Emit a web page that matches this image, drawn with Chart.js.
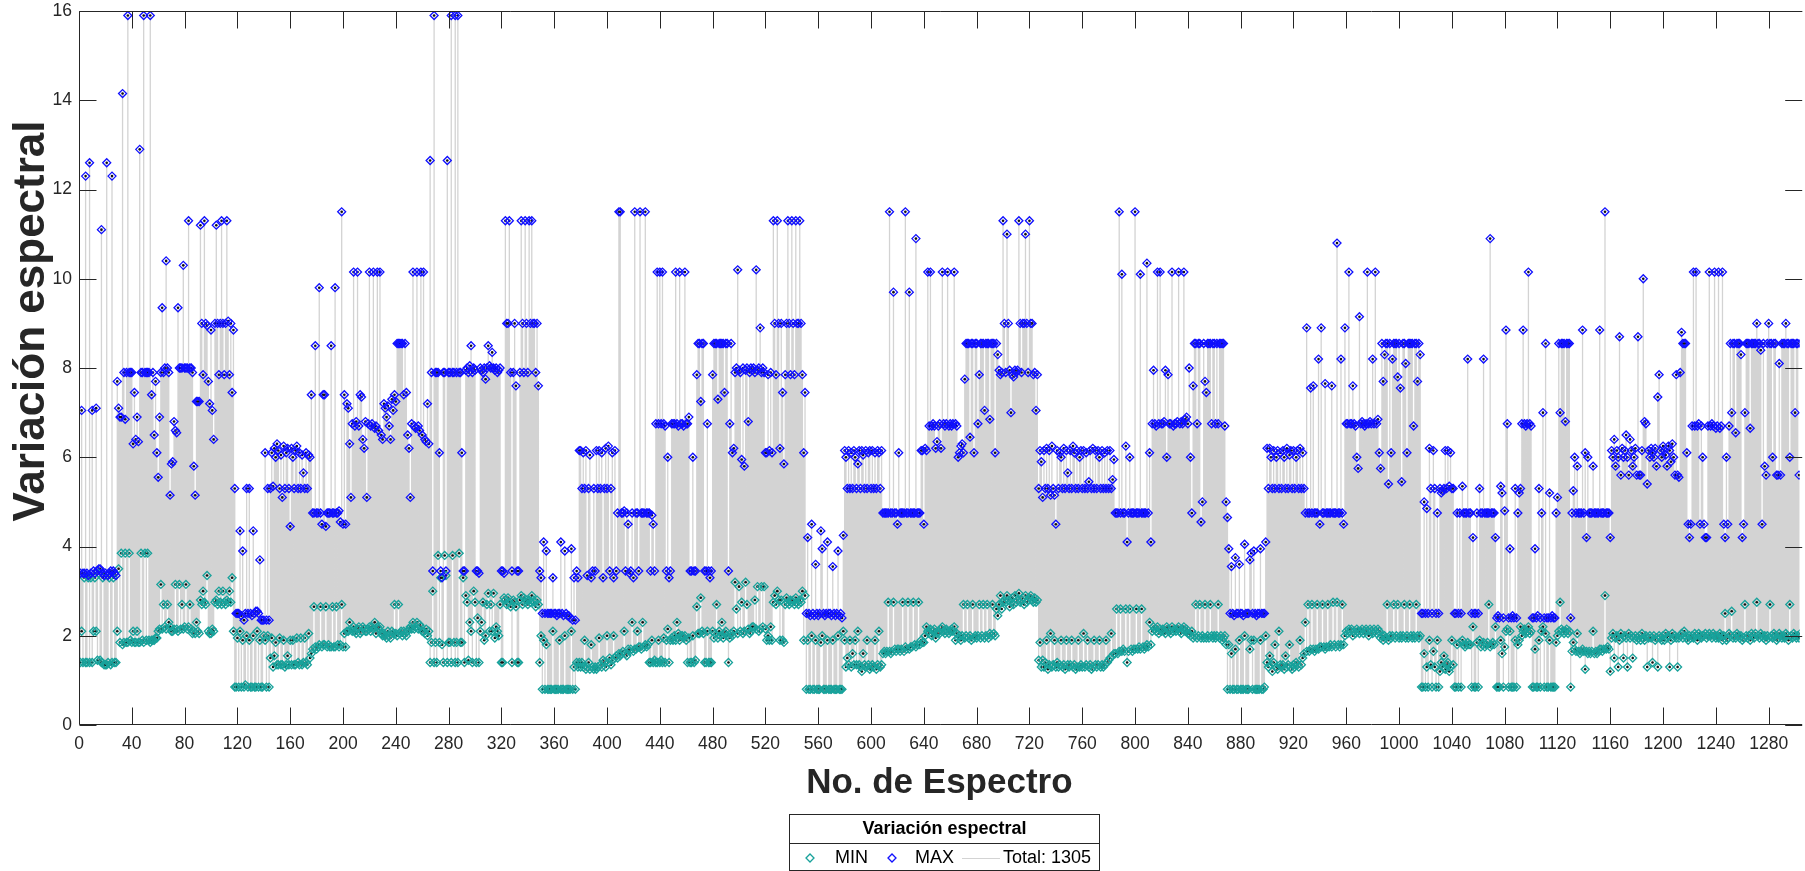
<!DOCTYPE html>
<html>
<head>
<meta charset="utf-8">
<title>Variación espectral</title>
<script src="https://cdn.jsdelivr.net/npm/chart.js@4.4.1/dist/chart.umd.min.js"></script>
<style>
  html, body { margin: 0; padding: 0; background: #ffffff; }
  canvas { display: block; }
</style>
</head>
<body>
<canvas id="chart" width="1805" height="871"></canvas>
<script>
// Tick positions of both axes
const xTicks = [0,40,80,120,160,200,240,280,320,360,400,440,480,520,560,600,640,680,720,760,800,840,880,920,960,1000,1040,1080,1120,1160,1200,1240,1280];
const yTicks = [0,2,4,6,8,10,12,14,16];

// Largest spectral variation of each spectrum
const maxVals = [
3.4,7.05,3.4,3.4,12.3,3.4,3.35,12.6,3.4,7.05,
3.45,3.4,7.1,3.45,3.5,3.5,11.1,3.4,3.35,3.4,
12.6,3.35,3.4,3.45,12.3,3.45,3.4,3.35,7.7,7.1,
6.9,6.9,14.15,7.9,6.85,7.9,15.9,7.9,7.9,7.9,
6.3,7.45,6.4,6.9,6.35,12.9,7.9,7.9,15.9,7.9,
7.9,7.9,7.9,15.9,7.4,7.9,6.5,7.7,6.1,5.55,
6.9,7.9,9.35,7.9,8.0,10.4,8.0,7.9,5.15,5.85,
5.9,6.8,6.6,6.55,9.35,8.0,8.0,8.0,10.3,8.0,
8.0,8.0,11.3,8.0,8.0,7.9,5.8,5.15,7.25,7.25,
7.25,11.2,9.0,7.85,11.3,9.0,8.95,7.7,7.2,8.85,
7.05,6.4,9.0,11.2,9.0,7.85,9.0,11.3,9.0,7.85,
9.0,11.3,9.05,7.85,9.0,7.45,8.85,5.3,2.5,2.5,
2.5,4.35,2.45,3.9,2.35,2.5,5.3,2.5,5.3,2.5,
2.45,4.35,2.5,2.55,2.55,2.5,3.7,2.35,2.35,2.35,
6.1,2.35,5.3,2.35,5.3,6.1,5.35,6.2,6.0,6.3,
6.15,5.3,6.05,5.1,6.25,5.3,6.1,6.2,5.3,4.45,
6.2,6.0,5.3,6.15,6.25,5.3,6.1,5.3,6.05,5.65,
5.3,6.1,5.3,6.05,6.0,7.4,4.75,4.75,8.5,4.75,
4.75,9.8,4.75,4.5,7.4,7.4,4.45,4.75,4.75,4.75,
8.5,4.75,4.75,9.8,4.75,4.75,4.8,4.55,11.5,4.5,
7.4,4.5,7.2,7.1,6.3,5.1,6.75,10.15,6.7,6.8,
10.15,6.7,7.4,7.35,6.4,6.2,6.8,5.1,6.75,10.15,
6.7,6.75,10.15,6.65,6.7,10.15,6.6,10.15,6.5,6.4,
7.2,7.1,6.9,7.15,6.7,6.4,7.3,7.05,7.4,7.25,
8.55,8.55,8.55,8.55,8.55,7.4,8.55,7.45,6.5,6.2,
5.1,6.75,10.15,6.7,6.65,10.15,6.7,6.6,10.15,6.5,
10.15,6.4,6.35,7.2,6.3,12.65,7.9,3.45,15.9,7.9,
7.9,7.9,6.1,3.45,3.3,7.9,7.9,3.45,12.65,7.9,
7.9,15.9,7.9,7.9,15.9,7.9,15.9,7.9,7.9,6.1,
3.45,3.45,7.95,8.0,7.9,8.05,8.5,7.9,8.0,7.95,
3.45,3.45,3.4,8.0,7.95,7.9,8.0,7.75,8.0,8.5,
8.05,8.0,8.35,8.0,7.95,8.0,7.9,7.95,8.0,3.45,
3.45,3.4,11.3,9.0,9.0,11.3,7.9,3.45,7.9,9.0,
7.6,3.45,3.45,7.9,11.3,9.0,7.9,11.3,9.0,7.9,
11.3,9.0,11.3,9.0,9.0,7.9,9.0,7.6,3.45,3.3,
2.5,4.1,2.5,3.9,2.5,2.5,2.5,2.5,3.3,2.5,
2.5,2.45,2.5,2.5,4.1,2.5,2.45,3.9,2.5,2.45,
2.45,2.4,3.95,2.35,3.3,2.35,3.45,3.3,6.15,6.15,
5.3,6.1,5.3,6.15,3.35,5.3,6.05,3.3,3.45,5.3,
3.45,6.15,5.3,6.15,5.3,6.1,3.3,5.3,6.2,5.3,
6.25,3.45,5.3,6.1,3.3,6.15,3.45,4.75,11.5,11.5,
4.75,4.75,4.8,3.45,4.75,4.5,3.4,3.45,4.75,3.3,
11.5,4.75,4.75,3.45,11.5,4.75,4.75,4.75,11.5,4.75,
4.75,4.75,3.45,4.7,4.5,3.45,6.75,10.15,6.75,10.15,
6.75,10.15,6.75,6.7,3.45,6.0,3.3,3.45,6.75,6.75,
6.75,10.15,6.75,6.7,10.15,6.75,6.75,6.7,10.15,6.75,
6.75,6.9,3.45,3.45,6.0,3.45,3.45,7.85,8.55,8.55,
7.25,8.55,8.55,3.45,3.45,6.75,3.45,3.3,3.45,7.85,
8.55,8.55,8.55,7.3,8.55,8.55,8.55,8.55,7.45,8.55,
8.55,3.45,6.75,8.55,6.1,6.2,7.9,8.0,10.2,7.95,
7.9,5.95,8.0,5.8,7.95,8.0,6.8,7.9,8.0,7.95,
8.0,7.9,10.2,7.95,8.0,8.9,7.9,8.0,7.9,6.1,
6.1,7.85,6.15,7.9,6.1,11.3,9.0,7.85,11.3,9.0,
6.2,9.0,7.45,5.85,7.85,9.0,11.3,9.0,7.85,11.3,
9.0,7.85,11.3,9.0,9.0,11.3,9.0,7.85,6.1,7.45,
2.5,4.2,2.5,2.45,4.5,2.5,2.45,3.6,2.5,2.45,
2.5,4.35,3.95,2.5,2.45,2.5,4.1,2.5,2.5,2.45,
3.55,2.5,2.45,2.5,3.9,2.45,2.5,2.4,4.25,6.15,
6.0,5.3,6.15,5.3,6.1,5.3,6.15,6.0,5.3,5.85,
6.15,5.3,6.15,6.05,5.3,6.15,5.3,6.1,6.15,5.3,
6.15,5.3,6.1,5.3,6.15,6.1,5.3,6.15,4.75,4.75,
4.75,4.75,4.75,11.5,4.75,4.75,9.7,4.75,4.75,4.5,
6.1,4.75,4.75,4.75,4.75,11.5,4.75,4.75,9.7,4.75,
4.75,4.75,4.75,10.9,4.75,4.75,4.75,6.15,6.15,4.5,
6.2,6.15,10.15,6.7,10.15,6.7,6.75,6.7,6.2,6.35,
6.7,6.75,6.2,10.15,6.75,6.7,6.75,10.15,6.7,6.75,
6.7,6.75,10.15,6.75,6.7,6.0,6.1,6.25,6.3,6.1,
7.75,8.55,8.55,8.55,6.45,8.55,8.55,6.1,8.55,8.55,
6.75,7.85,8.55,8.55,8.55,7.05,8.55,8.55,8.55,6.85,
8.55,8.55,8.55,6.1,8.55,8.3,7.95,7.85,7.9,11.3,
9.0,7.9,11.0,9.0,7.95,7.0,7.85,7.8,7.95,7.9,
7.95,11.3,9.0,7.9,9.0,9.0,11.0,9.0,7.9,11.3,
9.0,9.0,7.85,7.9,7.05,7.85,5.3,6.15,5.9,5.1,
6.15,5.3,6.2,5.3,6.15,5.15,6.25,5.3,5.15,4.5,
6.15,5.3,6.1,6.0,5.3,6.2,5.3,6.15,5.65,5.3,
6.15,5.3,6.25,6.1,5.3,6.15,5.3,6.0,6.15,5.3,
6.15,5.3,6.1,5.3,5.45,6.15,5.3,6.2,5.3,6.15,
5.3,6.15,6.0,5.3,6.15,5.3,6.1,5.3,6.15,5.3,
6.15,5.3,5.5,5.95,4.75,4.75,4.75,11.5,4.75,10.1,
4.75,4.75,6.25,4.1,4.75,6.0,4.75,4.75,4.75,11.5,
4.75,4.75,4.75,10.1,4.75,4.75,4.75,4.75,10.35,4.75,
6.1,4.1,6.75,7.95,6.75,6.7,10.15,6.75,10.15,6.75,
6.75,6.8,7.95,6.0,7.85,6.75,6.75,10.15,6.7,6.75,
6.75,6.8,10.15,6.75,6.8,6.75,10.15,6.85,6.9,6.75,
8.0,6.0,4.75,7.6,8.55,8.55,6.75,8.55,8.55,4.55,
5.0,8.55,7.7,7.45,8.55,8.55,8.55,6.75,8.55,8.55,
6.75,8.55,6.75,8.55,8.55,8.55,8.55,6.7,5.0,4.65,
3.95,2.5,3.55,2.5,2.45,3.75,2.5,2.5,3.6,2.5,
2.5,2.45,4.05,2.5,2.5,2.5,3.7,3.85,2.5,3.9,
2.5,2.45,2.5,2.5,3.95,2.5,2.5,2.5,4.1,6.2,
5.3,6.2,6.0,5.3,6.15,5.3,6.0,6.15,5.3,6.1,
5.3,6.15,6.0,5.3,6.2,5.3,6.05,6.15,5.3,6.15,
5.3,6.0,6.15,5.3,6.2,5.3,6.1,5.3,4.75,8.9,
4.75,4.75,7.55,4.75,7.6,4.75,4.75,4.75,8.2,4.5,
8.9,4.75,4.75,7.65,4.75,4.75,4.75,4.75,7.6,4.75,
4.75,4.75,10.8,4.75,4.75,8.2,4.75,4.5,8.9,6.75,
6.75,10.15,6.75,6.75,7.6,6.75,6.7,6.0,5.75,9.15,
6.75,6.8,6.75,6.7,6.75,10.15,6.75,6.8,6.75,8.2,
6.75,10.15,6.75,6.85,6.1,5.75,8.55,7.7,8.3,8.55,
8.55,5.4,8.55,6.1,8.2,8.55,8.55,8.55,7.8,8.55,
7.55,5.45,8.55,8.55,8.1,6.1,8.55,8.55,8.55,8.55,
6.7,8.55,8.55,7.7,8.55,8.3,2.5,2.5,5.0,2.5,
4.85,2.5,6.2,5.3,2.5,6.15,5.3,2.5,4.75,2.5,
5.3,5.2,5.25,5.3,6.15,5.3,6.15,5.35,6.1,5.3,
5.3,2.5,2.5,4.75,2.5,4.75,2.5,5.35,4.75,4.75,
4.75,8.2,4.75,4.75,2.5,4.2,2.5,2.5,4.75,2.5,
5.3,4.75,4.75,8.2,4.75,4.75,4.75,4.75,10.9,4.75,
4.75,4.75,4.2,2.4,2.45,2.4,5.35,5.2,2.4,4.8,
8.85,6.75,2.4,3.95,2.4,2.45,2.4,5.3,2.4,4.75,
5.2,5.3,6.75,8.85,6.75,6.7,6.75,10.15,6.75,6.7,
2.4,2.4,3.95,2.4,2.45,5.3,2.4,4.75,7.0,2.4,
8.55,2.4,2.4,5.2,2.4,2.45,2.4,2.4,4.75,5.1,
8.55,7.0,8.55,8.55,8.55,6.8,8.55,8.55,8.55,2.4,
4.75,5.25,6.0,4.75,5.8,4.75,4.75,4.75,8.85,4.75,
6.1,4.2,6.0,4.75,4.75,4.75,5.8,4.75,4.75,4.75,
4.75,8.85,4.75,4.75,4.75,11.5,4.75,4.75,4.75,4.2,
6.15,6.0,6.4,5.8,6.15,6.0,8.7,5.6,6.2,6.0,
6.15,6.5,6.0,5.6,6.4,6.15,5.8,6.0,6.2,5.6,
8.7,5.6,5.6,6.15,10.0,6.8,6.75,5.4,6.15,6.0,
6.2,6.1,6.0,6.2,5.8,7.35,7.85,6.15,6.0,6.25,
6.15,6.05,5.8,6.25,6.15,5.9,6.3,6.0,5.6,7.85,
5.6,5.55,7.9,8.8,8.55,8.55,8.55,6.1,4.5,4.2,
4.5,6.7,10.15,6.7,10.15,6.7,6.75,4.5,6.7,6.0,
4.5,4.2,4.2,6.7,10.15,6.7,6.75,6.7,10.15,6.65,
6.7,10.15,6.65,6.7,10.15,4.5,4.2,6.0,4.5,6.7,
8.55,7.0,8.55,8.55,6.55,8.55,8.55,8.55,8.3,4.2,
4.5,7.0,8.55,8.55,8.55,6.65,8.55,8.55,8.55,8.55,
9.0,8.55,8.55,8.4,4.5,8.55,5.8,5.6,8.55,9.0,
8.55,8.55,6.0,8.55,8.55,5.6,5.6,8.1,5.6,8.55,
8.55,8.55,9.0,8.55,8.55,6.0,8.55,8.55,8.55,7.0,
8.55,8.55,5.6,8.55,8.55
];

// Smallest spectral variation of each spectrum
const minVals = [
1.4,2.1,1.4,3.3,1.4,1.4,3.3,1.4,3.3,1.4,
2.1,3.3,2.1,1.45,3.4,1.45,1.4,3.3,1.35,1.35,
1.35,1.4,3.3,1.35,1.4,3.3,1.4,1.4,2.1,3.5,
1.85,3.85,1.8,1.85,3.85,1.85,1.85,3.85,1.9,1.85,
2.1,1.85,1.85,2.1,1.85,1.85,3.85,1.9,1.85,3.85,
1.9,3.85,1.9,1.85,1.9,1.9,1.9,1.95,1.95,2.1,
2.15,3.15,2.15,2.7,2.2,2.15,2.7,2.3,2.2,2.1,
2.1,2.15,3.15,2.15,2.1,3.15,2.15,2.7,2.15,2.2,
3.15,2.15,2.2,2.7,2.15,2.05,2.1,2.05,2.3,2.1,
2.05,2.8,2.7,3.0,2.75,2.7,3.35,2.1,2.05,2.05,
2.15,2.1,2.75,2.8,2.7,3.0,2.75,2.7,3.0,2.75,
2.7,2.8,2.75,3.0,2.75,3.3,2.1,0.85,0.85,1.95,
0.85,2.1,0.85,1.9,0.85,0.9,2.0,0.85,1.9,0.85,
0.85,2.0,0.85,0.85,2.1,0.85,1.9,0.85,0.85,2.0,
1.9,0.85,2.0,0.85,1.5,1.95,1.3,1.55,1.85,1.35,
1.35,1.95,1.35,1.35,1.9,1.3,1.35,1.55,1.35,1.9,
1.35,1.9,1.35,1.35,1.95,1.4,1.35,1.95,1.35,1.4,
1.95,1.4,1.35,2.05,1.5,1.6,1.7,2.65,1.75,1.7,
1.75,1.8,2.65,1.75,1.8,1.8,2.65,1.75,1.8,1.75,
1.75,2.65,1.75,1.75,2.65,1.8,1.75,1.8,2.7,1.75,
2.05,1.75,2.1,2.1,2.3,2.15,2.1,2.2,2.1,2.05,
2.15,2.2,2.05,2.1,2.2,2.15,2.1,2.1,2.15,2.2,
2.1,2.2,2.15,2.3,2.05,2.2,2.15,2.2,2.05,2.0,
2.05,2.0,1.95,2.1,2.0,1.95,2.1,2.05,2.7,2.05,
2.0,2.7,2.05,2.1,2.0,2.1,2.05,2.0,2.1,2.15,
2.2,2.15,2.3,2.15,2.2,2.3,2.15,2.25,2.2,2.1,
2.1,2.05,2.15,2.0,2.1,1.4,1.85,3.0,1.4,1.85,
1.4,3.8,1.85,3.3,1.8,1.4,3.8,3.35,1.4,1.85,
1.85,1.4,3.8,1.85,1.4,1.85,1.4,3.85,1.85,1.85,
3.3,1.4,2.9,2.75,1.45,2.3,2.1,1.4,3.0,2.75,
1.4,2.4,1.4,2.1,2.3,2.75,1.9,2.0,2.7,2.95,
2.1,2.7,2.1,2.95,1.95,2.2,2.1,2.0,2.7,1.4,
1.4,2.85,2.8,2.7,2.85,2.75,2.65,1.4,2.8,2.75,
2.65,1.4,1.4,2.8,2.9,2.7,2.85,2.75,2.8,2.7,
2.8,2.75,2.9,2.8,2.75,2.65,2.8,2.7,1.4,2.0,
0.8,1.9,0.8,1.8,0.8,0.8,0.8,0.8,2.1,0.8,
0.8,0.8,0.8,1.9,0.8,0.8,0.8,2.0,0.8,0.8,
0.8,0.8,2.1,0.8,1.3,0.8,1.4,1.3,1.4,1.3,
1.4,1.3,1.9,1.25,1.3,1.4,1.25,1.8,1.3,1.25,
1.3,1.25,1.3,1.95,1.35,1.3,1.45,1.4,1.3,2.0,
1.4,1.5,1.35,1.45,2.0,1.5,1.55,1.5,1.6,1.55,
1.6,1.65,2.1,1.6,1.55,1.7,1.65,1.7,2.3,1.65,
1.7,1.7,2.1,1.75,1.75,1.7,2.3,1.75,1.8,1.75,
1.8,1.4,1.4,1.9,1.4,1.45,1.4,1.4,1.9,1.4,
1.45,1.4,1.95,1.4,1.9,2.15,1.4,1.9,1.95,1.9,
2.0,1.9,2.3,2.05,1.9,2.0,2.0,1.95,2.0,1.9,
1.4,1.95,1.4,1.4,2.0,1.4,1.45,2.65,2.05,2.05,
2.85,2.1,2.05,1.4,1.4,2.1,1.4,1.4,1.4,2.1,
1.95,2.05,2.7,1.95,2.1,2.0,2.3,1.95,2.05,2.1,
2.0,1.4,1.95,2.05,2.0,2.1,3.2,2.6,2.05,3.1,
2.1,2.75,2.05,2.1,3.2,2.7,2.15,2.05,2.1,2.2,
2.2,2.8,2.15,3.1,2.1,2.15,3.1,2.2,3.1,2.15,
1.9,2.0,1.9,2.2,1.9,2.75,2.9,2.7,3.0,2.8,
1.9,2.8,1.9,1.85,2.7,2.85,2.75,2.7,2.8,2.75,
2.8,2.7,2.85,2.75,2.7,2.8,2.75,3.0,1.9,2.9,
0.8,1.9,0.8,0.8,2.0,0.8,0.8,1.9,0.8,0.8,
0.8,1.85,2.0,0.8,0.8,0.8,1.9,0.8,0.8,0.8,
1.9,0.8,0.8,0.8,2.0,0.8,0.8,0.8,2.1,1.9,
1.3,1.5,1.35,1.9,1.3,1.6,1.35,1.9,1.35,2.1,
1.35,1.3,1.2,1.6,1.35,1.3,1.9,1.35,1.25,1.3,
1.35,1.3,1.9,1.25,1.35,2.1,1.3,1.35,1.6,1.65,
1.6,1.65,2.75,1.65,1.6,1.65,2.75,1.7,1.65,1.7,
1.7,1.65,1.7,2.75,1.65,1.75,1.7,2.75,1.7,1.75,
1.75,2.75,1.8,1.75,1.8,2.75,1.8,1.9,1.85,1.85,
2.0,2.2,2.1,2.05,2.15,2.0,2.1,2.15,1.95,2.05,
2.1,2.05,2.15,2.2,2.1,2.05,2.15,2.1,2.05,2.1,
2.15,2.1,2.2,1.9,2.05,1.95,2.0,1.9,2.0,2.7,
1.95,2.0,2.7,1.95,2.0,1.9,2.7,1.95,2.0,1.95,
2.0,2.7,1.95,2.0,2.7,1.95,2.0,2.7,1.95,2.05,
2.0,2.7,2.05,2.0,2.6,2.45,2.7,2.9,2.6,2.75,
2.8,2.75,2.9,2.8,2.65,2.75,2.85,2.7,2.9,2.75,
2.8,2.95,2.75,2.8,2.85,2.7,2.9,2.75,2.8,2.85,
2.9,2.8,2.75,2.85,2.75,2.8,1.45,1.85,1.3,1.45,
1.3,1.4,1.9,1.25,1.35,2.05,1.3,1.35,1.9,1.3,
1.4,1.3,1.35,1.9,1.3,1.35,1.25,1.9,1.35,1.3,
1.35,1.9,1.3,1.35,1.25,1.3,1.9,1.3,1.35,1.3,
2.05,1.3,1.35,1.9,1.3,1.35,1.25,1.3,1.9,1.35,
1.3,1.35,1.9,1.3,1.35,1.3,1.35,1.9,1.4,1.45,
1.5,2.05,1.55,1.6,1.6,2.6,1.6,1.65,2.6,1.65,
1.7,1.65,2.6,1.4,1.65,2.6,1.7,1.65,1.7,1.7,
2.6,1.7,1.75,1.7,2.6,1.75,1.7,1.75,1.8,1.75,
2.3,1.8,2.1,2.2,2.15,2.1,2.2,2.05,2.15,2.1,
2.15,2.1,2.05,2.2,2.15,2.1,2.05,2.2,2.1,2.15,
2.1,2.15,2.2,2.1,2.05,2.15,2.2,2.1,2.15,2.05,
2.05,2.0,2.1,1.95,2.0,2.7,1.95,2.0,2.7,1.95,
2.0,1.95,2.7,1.95,2.0,1.95,2.7,2.0,1.95,2.0,
1.95,2.0,2.7,1.95,2.0,1.9,1.95,2.0,1.8,0.8,
1.8,0.8,1.6,0.8,0.8,1.7,0.8,0.8,1.9,0.8,
0.8,0.8,2.0,0.8,0.8,0.8,1.7,1.9,0.8,1.9,
0.8,0.8,0.8,0.8,1.9,0.8,0.8,0.85,2.0,1.4,
1.3,1.55,1.35,1.2,1.4,1.8,1.3,1.25,2.1,1.35,
1.3,1.35,1.25,1.55,1.3,1.35,1.8,1.3,1.25,1.35,
1.3,1.4,1.35,1.3,1.9,1.35,1.5,1.6,2.3,1.65,
2.7,1.65,1.7,2.7,1.7,1.65,1.7,2.7,1.7,1.75,
1.75,2.7,1.75,1.7,1.75,2.7,1.75,1.8,1.75,2.75,
1.8,1.75,2.75,1.8,1.75,1.8,2.7,1.8,2.0,2.1,
2.05,2.15,2.1,2.15,2.0,2.1,2.05,2.15,2.1,2.05,
2.1,2.15,2.05,2.1,2.15,2.1,2.0,2.15,2.1,2.05,
2.15,2.1,2.05,2.15,2.1,1.95,2.0,1.9,2.0,1.95,
2.7,1.9,2.0,1.95,2.0,2.7,1.95,2.0,2.7,1.95,
2.0,1.95,2.0,2.7,1.95,2.0,1.95,2.7,2.0,1.95,
2.0,1.95,2.7,2.0,1.95,2.0,0.85,0.85,1.6,0.85,
1.3,0.85,1.9,1.35,0.85,1.65,1.3,0.85,1.9,0.85,
1.2,1.4,1.3,1.55,1.25,1.35,1.4,1.2,1.3,1.9,
1.35,0.85,0.85,1.8,0.85,1.85,0.85,1.9,1.8,1.75,
1.8,1.85,1.8,1.8,0.85,2.2,0.85,0.85,1.85,0.85,
1.9,1.75,1.8,1.85,1.75,1.8,1.85,2.7,1.75,1.8,
1.85,1.8,2.2,0.85,0.85,0.85,1.9,1.6,0.85,1.75,
2.1,2.15,0.85,2.1,0.85,0.85,0.85,1.9,0.85,1.8,
1.9,2.2,2.0,2.1,2.15,2.05,2.1,2.2,2.05,2.1,
0.85,0.85,1.7,0.85,0.85,1.9,0.85,2.1,2.2,0.85,
2.05,0.85,0.85,1.9,0.85,0.85,0.85,0.85,1.85,2.0,
2.1,2.75,2.15,2.1,2.05,2.1,2.15,2.05,2.1,0.85,
1.65,1.85,1.7,1.65,2.05,1.65,1.6,1.65,1.7,1.65,
1.25,1.65,1.6,1.65,1.6,1.65,2.1,1.6,1.65,1.6,
1.65,1.7,1.7,1.65,1.7,2.9,1.7,1.75,1.7,1.2,
1.95,2.05,1.5,1.95,2.0,1.3,1.9,2.05,1.95,1.5,
2.0,1.95,1.3,2.05,1.95,2.0,1.5,1.95,2.0,1.9,
1.95,2.0,1.9,2.05,1.95,1.9,2.0,1.3,1.95,2.0,
1.95,1.4,2.0,1.9,1.95,1.3,2.0,1.95,1.9,2.0,
1.9,2.05,1.95,2.0,1.3,1.9,2.05,1.95,2.0,1.95,
1.3,1.95,2.0,2.05,1.95,2.1,2.0,1.95,1.9,2.0,
1.95,2.0,1.95,2.05,2.0,1.9,2.05,2.0,1.95,2.0,
2.0,2.05,1.95,2.0,2.05,2.0,1.95,2.05,2.0,1.95,
2.0,1.95,2.05,2.0,1.9,2.0,2.5,1.9,1.95,2.05,
2.0,2.55,1.95,2.0,1.95,2.05,2.0,1.95,2.0,1.9,
1.95,2.7,2.0,1.95,2.0,1.9,2.05,2.0,1.95,2.05,
2.75,2.0,1.95,2.05,2.0,1.95,2.0,1.9,2.0,1.95,
2.7,2.0,1.95,2.05,2.0,1.9,1.95,2.05,2.0,1.95,
2.0,1.95,2.05,2.0,1.9,2.7,2.0,1.95,2.05,2.0,
1.95,2.0,1.95,2.05,2.0
];

// Spectrum numbers (1 … N)
const spectra = maxVals.map((_, k) => k + 1);

const FONT = '"Liberation Sans", Arial, Helvetica, sans-serif';
const AXIS_COLOR = '#262626';
const MIN_COLOR = '#18a29b';
const MAX_COLOR = '#1010ff';
const STEM_COLOR = '#d3d3d3';
const TICK_LEN = 17;
const Y_TITLE = 'Variación espectral';

// Vertical segment from the minimum to the maximum of every spectrum,
// separated by gaps so each spectrum is its own stroke.
const stemPoints = [];
spectra.forEach((s, k) => {
  stemPoints.push({ x: s, y: minVals[k] }, { x: s, y: maxVals[k] }, { x: s, y: null });
});

// Inward tick marks on all four sides plus the axis box lines
const frameTicks = {
  id: 'frameTicks',
  afterDatasetsDraw(chart) {
    const { ctx, chartArea: a, scales: { x, y } } = chart;
    ctx.save();
    ctx.strokeStyle = AXIS_COLOR;
    ctx.lineWidth = 1;
    ctx.beginPath();
    const L = Math.round(a.left) + 0.5, T = Math.round(a.top) + 0.5, B = Math.round(a.bottom) - 0.5;
    const R = a.right + 2.5;
    // box: left, bottom, top (right edge sits just past the canvas)
    ctx.moveTo(L, T); ctx.lineTo(L, B);
    ctx.moveTo(L, B); ctx.lineTo(R, B);
    ctx.moveTo(L, T); ctx.lineTo(R, T);
    xTicks.forEach(v => {
      const px = Math.round(x.getPixelForValue(v)) + 0.5;
      ctx.moveTo(px, B); ctx.lineTo(px, B - TICK_LEN);
      ctx.moveTo(px, T); ctx.lineTo(px, T + TICK_LEN);
    });
    yTicks.forEach(v => {
      const py = Math.round(y.getPixelForValue(v)) + 0.5;
      ctx.moveTo(L, py); ctx.lineTo(L + TICK_LEN, py);
      ctx.moveTo(R, py); ctx.lineTo(R - TICK_LEN, py);
    });
    ctx.stroke();
    ctx.restore();
  }
};

// Vertical axis title, rotated and placed beside the tick labels
const yTitle = {
  id: 'yTitle',
  afterDraw(chart) {
    const { ctx } = chart;
    ctx.save();
    ctx.translate(32, 321);
    ctx.rotate(-Math.PI / 2);
    ctx.fillStyle = AXIS_COLOR;
    ctx.font = 'bold 44px ' + FONT;
    ctx.textAlign = 'center';
    ctx.textBaseline = 'middle';
    ctx.fillText(Y_TITLE, 0, 0);
    ctx.restore();
  }
};

// Boxed legend with a title row, centred under the axis title
const boxLegend = {
  id: 'boxLegend',
  afterDraw(chart) {
    const { ctx } = chart;
    const ds = chart.data.datasets;
    const minDs = ds.find(d => d.label === 'MIN');
    const maxDs = ds.find(d => d.label === 'MAX');
    const stemDs = ds.find(d => d.showLine);
    const bx = 789.5, by = 814.5, bw = 310, bh = 56, div = 843.5;
    ctx.save();
    ctx.fillStyle = '#ffffff';
    ctx.fillRect(bx, by, bw, bh);
    ctx.strokeStyle = AXIS_COLOR;
    ctx.lineWidth = 1;
    ctx.strokeRect(bx, by, bw, bh);
    ctx.beginPath();
    ctx.moveTo(bx, div); ctx.lineTo(bx + bw, div);
    ctx.stroke();

    ctx.fillStyle = '#000000';
    ctx.textBaseline = 'middle';
    ctx.textAlign = 'center';
    ctx.font = 'bold 18px ' + FONT;
    ctx.fillText('Variación espectral', bx + bw / 2, 829.5);

    const rowY = 858;
    const diamond = (cx, color) => {
      const r = 4;
      ctx.beginPath();
      ctx.moveTo(cx - r, rowY); ctx.lineTo(cx, rowY - r);
      ctx.lineTo(cx + r, rowY); ctx.lineTo(cx, rowY + r);
      ctx.closePath();
      ctx.strokeStyle = color;
      ctx.lineWidth = 1.3;
      ctx.stroke();
    };
    ctx.font = '18px ' + FONT;
    ctx.textAlign = 'left';
    diamond(810, minDs.borderColor);
    ctx.fillText(minDs.label, 835, rowY);
    diamond(892, maxDs.borderColor);
    ctx.fillText(maxDs.label, 915, rowY);
    ctx.beginPath();
    ctx.strokeStyle = stemDs.borderColor;
    ctx.lineWidth = 1;
    ctx.moveTo(962, rowY + 0.5); ctx.lineTo(1000, rowY + 0.5);
    ctx.stroke();
    ctx.fillText(stemDs.label, 1003, rowY);
    ctx.restore();
  }
};

new Chart(document.getElementById('chart'), {
  type: 'scatter',
  data: {
    datasets: [
      {
        label: 'Total: ' + spectra.length,
        type: 'line',
        showLine: true,
        data: stemPoints,
        parsing: false,
        spanGaps: false,
        borderColor: STEM_COLOR,
        borderWidth: 1.3,
        pointRadius: 1.3,
        pointBackgroundColor: '#111111',
        pointBorderWidth: 0,
        order: 3
      },
      {
        label: 'MIN',
        data: spectra.map((s, k) => ({ x: s, y: minVals[k] })),
        parsing: false,
        pointStyle: 'rectRot',
        pointRadius: 4,
        borderColor: MIN_COLOR,
        backgroundColor: 'rgba(0,0,0,0)',
        pointBorderWidth: 1.3,
        order: 2
      },
      {
        label: 'MAX',
        data: spectra.map((s, k) => ({ x: s, y: maxVals[k] })),
        parsing: false,
        pointStyle: 'rectRot',
        pointRadius: 4,
        borderColor: MAX_COLOR,
        backgroundColor: 'rgba(0,0,0,0)',
        pointBorderWidth: 1.3,
        order: 1
      }
    ]
  },
  options: {
    responsive: false,
    animation: false,
    devicePixelRatio: 1,
    events: [],
    layout: { padding: { top: 11, right: 0, bottom: 0, left: 0 } },
    plugins: {
      legend: { display: false },
      tooltip: { enabled: false }
    },
    scales: {
      x: {
        type: 'linear',
        min: 0,
        max: 1303.5,
        afterBuildTicks: s => { s.ticks = xTicks.map(v => ({ value: v })); },
        afterFit: s => { s.height = 146; },
        grid: { display: false, drawTicks: false },
        border: { display: false },
        ticks: {
          autoSkip: false,
          maxRotation: 0,
          padding: 9,
          color: AXIS_COLOR,
          font: { family: FONT, size: 17.5 },
          callback: v => String(v)
        },
        title: {
          display: true,
          text: 'No. de Espectro',
          color: AXIS_COLOR,
          font: { family: FONT, size: 35, weight: 'bold' },
          padding: { top: 0, bottom: 67 }
        }
      },
      y: {
        type: 'linear',
        min: 0,
        max: 16,
        afterBuildTicks: s => { s.ticks = yTicks.map(v => ({ value: v })); },
        afterFit: s => { s.width = 79; s.paddingTop = 0; s.paddingBottom = 0; },
        grid: { display: false, drawTicks: false },
        border: { display: false },
        ticks: {
          padding: 7,
          color: AXIS_COLOR,
          font: { family: FONT, size: 17.5 },
          callback: v => String(v)
        },
        title: { display: false }
      }
    }
  },
  plugins: [frameTicks, yTitle, boxLegend]
});
</script>
</body>
</html>
